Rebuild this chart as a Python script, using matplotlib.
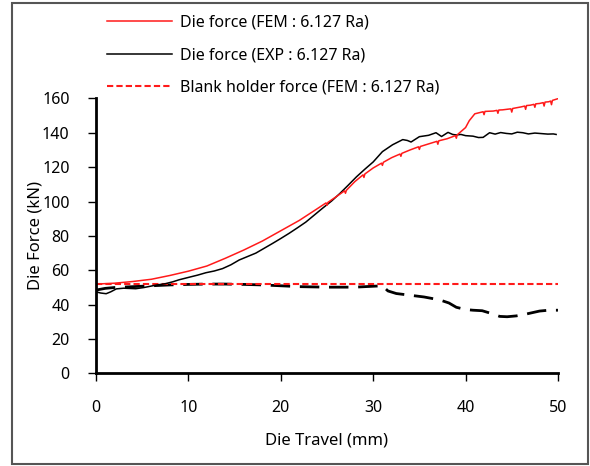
import matplotlib
matplotlib.use("Agg")
import matplotlib.pyplot as plt
from matplotlib.lines import Line2D
from matplotlib.patches import Rectangle

plt.rcParams['font.family'] = ['Noto Sans', 'DejaVu Sans']

# Die force, FEM (with the small contact dips of the simulation)
fem_x = [0, 2, 4, 6, 8, 10, 12, 14, 16, 18, 20, 22, 24, 24.9, 25, 25.1, 26, 26.9, 27, 27.1,
         28, 28.9, 29, 29.1, 30, 30.9, 31, 31.1, 32, 32.9, 33, 33.1, 34, 34.9, 35, 35.1,
         36, 36.9, 37, 37.1, 38, 38.9, 39, 39.1, 40, 40.4, 41, 41.9, 42, 42.1, 43, 43.4,
         43.5, 43.6, 44, 44.9, 45, 45.1, 46, 46.4, 46.5, 46.6, 47, 47.4, 47.5, 47.6, 48,
         48.4, 48.5, 48.6, 49, 49.2, 49.3, 49.4, 50]
fem_y = [52, 52.5, 53.5, 54.8, 57, 59.5, 62.5, 67, 71.8, 77, 83, 89, 96, 99.2, 97.8, 99.5, 102.8, 106.2, 104.8, 106.5,
         111.5, 115.5, 114, 116, 119.5, 122.3, 121, 122.8, 125.5, 127.6, 126.3, 128, 130, 131.8, 130.3, 132,
         133.5, 135, 133.3, 135.3, 136.5, 138.3, 136.8, 138.8, 143, 147, 151, 152.2, 150.5, 152.4, 152.6, 153,
         151.3, 153.2, 153.3, 153.9, 152, 154.1, 155, 155.5, 153.6, 155.8, 156, 156.5, 154.8, 156.8, 157,
         157.5, 155.5, 157.8, 158, 158.4, 156.3, 158.8, 159.8]

# Die force, experiment
exp_x = [0, 0.5, 1.1, 1.6, 2.2, 3, 4.3, 5.2, 6.5, 7.5, 8.3, 9, 10.1, 11, 11.9, 12.8, 13.7,
         14.6, 15.5, 16.4, 17.3, 18.2, 19.1, 20, 20.9, 21.8, 22.7, 23.6, 24.5, 25.5, 26.4,
         27.3, 28.2, 29.1, 30, 31, 32.1, 33.2, 33.7, 34.1, 35, 36, 36.8, 37.4, 38.1, 38.6,
         39, 39.5, 40, 40.8, 41.4, 41.9, 42.6, 43.2, 43.8, 44.4, 45, 45.6, 46.2, 46.8, 47.5,
         48.2, 48.9, 49.5, 49.8]
exp_y = [47.5, 46.8, 46.4, 47.5, 49.2, 49.6, 49.3, 50, 51.4, 52.2, 53.3, 54.5, 56, 57.2, 58.6, 59.6, 61,
         63.2, 66, 68, 70, 72.8, 75.6, 78.5, 81.5, 84.7, 88, 92, 96, 100.3, 104.7,
         109.5, 114.4, 118.8, 123, 129, 133, 136, 135.5, 134.6, 137.7, 138.5, 140, 137.8, 140.2, 139,
         138.7, 139, 138.3, 138, 137.2, 137.3, 140, 139.2, 140.1, 139.6, 139.3, 140.3, 140, 139.3, 139.8,
         139.5, 139.2, 139.3, 139]

# Blank holder force, experiment
bh_exp_x = [0, 1, 2, 4, 6, 8, 10, 12, 14, 16, 18, 20, 22, 25, 28, 31, 31.6, 32.5, 34, 35.5,
            37.2, 38.2, 39, 40, 40.8, 41.8, 42.6, 43.7, 44.5, 45.5, 46.5, 48, 49, 50]
bh_exp_y = [48.5, 49.5, 50, 50.5, 51, 51.5, 51.8, 52, 52, 51.8, 51.5, 51, 50.5, 50.2, 50.2, 51, 48, 46.5, 45.5, 44.5,
            42.8, 41, 38.5, 37.2, 36.8, 36.5, 35.2, 33.2, 33, 33.5, 34.5, 36.3, 36.8, 36.8]

# Blank holder force, FEM (constant)
bh_fem_x = [0, 50]
bh_fem_y = [52, 52]

labels = ["Die force (FEM : 6.127 Ra)",
          "Die force (EXP : 6.127 Ra)",
          "Blank holder force (FEM : 6.127 Ra)"]

fig = plt.figure(figsize=(5.9, 4.66), dpi=100)
ax = fig.add_axes([0.1627, 0.1985, 0.783, 0.5905])

ax.plot(bh_exp_x, bh_exp_y, color='black', lw=2, dashes=(7, 3.5))
ax.plot(bh_fem_x, bh_fem_y, color='#ff1a1a', lw=1.5, dashes=(3, 1.5))
ax.plot(exp_x, exp_y, color='black', lw=1.1)
ax.plot(fem_x, fem_y, color='#ff1a1a', lw=1.1)

ax.set_xlim(0, 50)
ax.set_ylim(0, 160)
ax.set_xticks(range(0, 51, 10))
ax.set_yticks(range(0, 161, 20))
for s in ['top', 'right']:
    ax.spines[s].set_visible(False)
for s in ['left', 'bottom']:
    ax.spines[s].set_linewidth(2)
ax.tick_params(direction='out', length=6, width=1, labelsize=11.5, colors='black')
ax.tick_params(axis='x', pad=13)
ax.tick_params(axis='y', pad=13)
ax.set_xlabel("Die Travel (mm)", fontsize=12, labelpad=12)
ax.set_ylabel("Die Force (kN)", fontsize=12, labelpad=-1)

handles = [Line2D([], [], color='#ff1a1a', lw=1.1),
           Line2D([], [], color='black', lw=1.1),
           Line2D([], [], color='#ff1a1a', lw=1.5, dashes=(3, 1.5))]
fig.legend(handles, labels, loc='upper left', bbox_to_anchor=(0.157, 1.0),
           frameon=False, fontsize=11.5, handlelength=4.1, handletextpad=0.5,
           labelspacing=1.05)

# outer frame
fig.patches.append(Rectangle((0.021, 0.005), 0.975, 0.988, transform=fig.transFigure,
                             fill=False, edgecolor='#555555', lw=1.5))

fig.savefig("out.png", dpi=100)
